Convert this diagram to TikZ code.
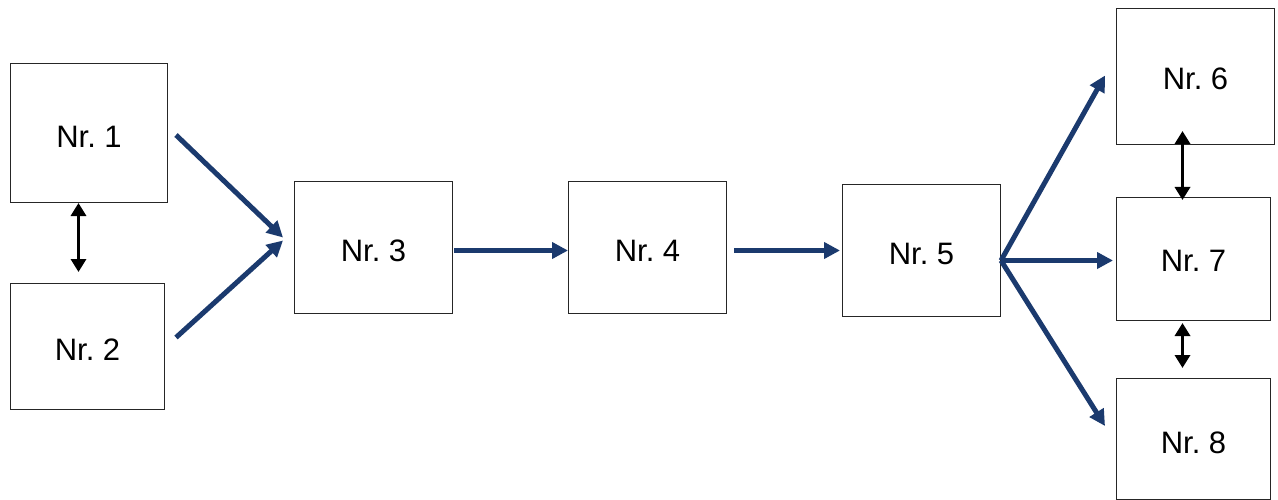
\documentclass[tikz,border=0pt]{standalone}
\usepackage{fontspec}
\setmainfont{Liberation Sans}
\usetikzlibrary{arrows.meta,calc}
\definecolor{navy}{HTML}{1B3A6E}
\newcommand{\lowtext}[2]{\raisebox{-#1}[\height][\depth]{#2}}
\tikzset{
  box/.style={draw=black!85, line width=1pt, fill=white, anchor=north west, inner sep=0pt, font=\fontsize{31}{31}\selectfont},
  flow/.style={draw=navy, line width=5pt, -{Triangle[length=16pt,width=16pt]}},
  link/.style={draw=black, line width=3.5pt, {Triangle[length=13pt,width=15pt]}-{Triangle[length=13pt,width=15pt]}}
}
\begin{document}
\begin{tikzpicture}[x=1pt,y=-1pt]
\useasboundingbox (0,0) rectangle (1278,500);
\node[box, minimum width=157pt, minimum height=139pt] (n1) at (10,63) {\lowtext{4pt}{Nr.\ 1}};
\node[box, minimum width=154pt, minimum height=126pt] (n2) at (10,283) {\lowtext{3pt}{Nr.\ 2}};
\node[box, minimum width=158pt, minimum height=132pt] (n3) at (294,181) {\lowtext{3pt}{Nr.\ 3}};
\node[box, minimum width=158pt, minimum height=132pt] (n4) at (568,181) {\lowtext{3pt}{Nr.\ 4}};
\node[box, minimum width=158pt, minimum height=132pt] (n5) at (842,184) {\lowtext{3pt}{Nr.\ 5}};
\node[box, minimum width=158pt, minimum height=136pt] (n6) at (1116,8) {\lowtext{2pt}{Nr.\ 6}};
\node[box, minimum width=154pt, minimum height=123pt] (n7) at (1116,197) {\lowtext{2pt}{Nr.\ 7}};
\node[box, minimum width=154pt, minimum height=121pt] (n8) at (1116,378) {\lowtext{4pt}{Nr.\ 8}};
% flow arrows
\draw[flow] ($(n1.east)+(8,2)$) -- ($(n3.west)+(-11,-10)$);
\draw[flow] ($(n2.east)+(11,-9)$) -- ($(n3.west)+(-11,-7)$);
\draw[flow] ($(n3.east)+(1,3)$) -- ($(n4.west)+(0,3)$);
\draw[flow] ($(n4.east)+(7,3)$) -- ($(n5.west)+(-2,0)$);
\coordinate (s5) at ($(n5.east)+(0,10)$);
\draw[flow] (s5) -- ($(n6.west)+(-11,-1)$);
\draw[flow] (s5) -- ($(n7.west)+(-3,1.5)$);
\draw[flow] (s5) -- ($(n8.west)+(-11,-13)$);
% double arrows
\draw[link] ($(n1.south)+(-10.5,0)$) -- ($(n2.north)+(-9,-11)$);
\draw[link] ($(n6.south)+(-13,-14)$) -- ($(n7.north)+(-11,3)$);
\draw[link] ($(n7.south)+(-11,2)$) -- ($(n8.north)+(-11,-10)$);
\end{tikzpicture}
\end{document}
